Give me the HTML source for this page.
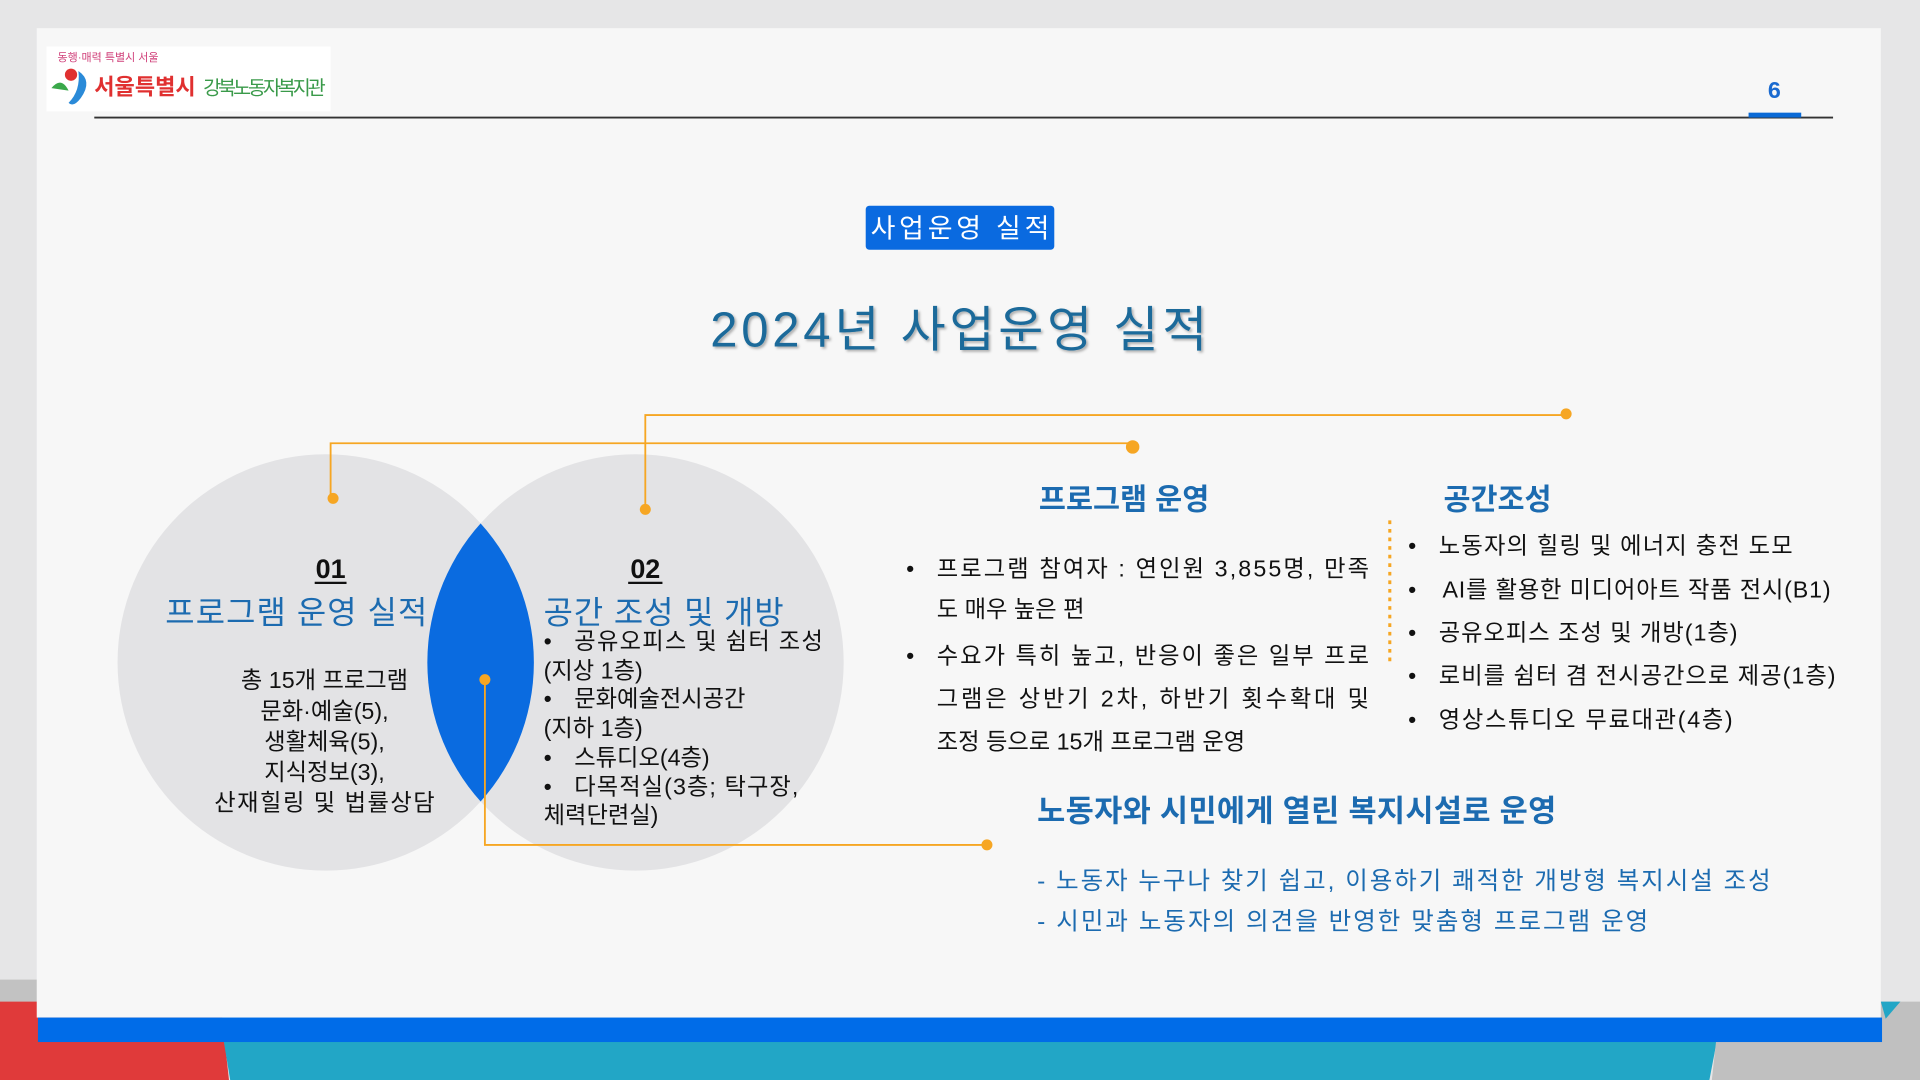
<!DOCTYPE html>
<html><head><meta charset="utf-8"><style>
html,body{margin:0;padding:0;width:1920px;height:1080px;overflow:hidden;background:#e6e6e7}
svg{display:block}
text{font-family:"Liberation Sans","Noto Sans CJK KR",sans-serif}
</style></head><body>
<svg width="1920" height="1080" viewBox="0 0 1568 882" xmlns="http://www.w3.org/2000/svg">
<defs>
<clipPath id="cl"><circle cx="266" cy="541" r="170"/></clipPath>
<filter id="sh"><feDropShadow dx="1.5" dy="1.5" stdDeviation="1" flood-color="#000" flood-opacity="0.3"/></filter>
</defs>
<rect width="1568" height="882" fill="#e6e6e7"/>
<rect x="0" y="800" width="32" height="30" fill="#c2c2c2"/>
<polygon points="0,818 180,818 187,882 0,882" fill="#e03a3a"/>
<polygon points="181,840 1404,840 1396,882 188,882" fill="#22a6c6"/>
<polygon points="1405,818 1568,818 1568,882 1398,882" fill="#c0c0c0"/>
<polygon points="1536,818 1552,818 1540,832" fill="#22a6c6"/>
<rect x="30" y="23" width="1506" height="808" fill="#f7f7f7"/>
<rect x="31" y="831" width="1506" height="20" fill="#006ce8"/>
<rect x="38" y="38" width="232" height="53" fill="#fff"/>
<text x="47" y="50" font-size="9" fill="#d0407a">동행·매력 특별시 서울</text>
<circle cx="58" cy="61" r="5" fill="#e03030"/>
<path d="M42,72 Q50,62 56,74 Z" fill="#3aa84a"/>
<path d="M64,58 Q76,66 66,80 Q60,88 56,84 Q66,74 64,58Z" fill="#2a8ad8"/>
<text x="77" y="77" font-size="18" fill="#e03030" font-weight="bold">서울특별시</text>
<text x="166" y="77" font-size="16" fill="#3a9a4a" textLength="100">강북노동자복지관</text>
<line x1="77" y1="96" x2="1497" y2="96" stroke="#333" stroke-width="1.5"/>
<rect x="1428" y="92" width="43" height="4" fill="#0a6ad6"/>
<text x="1449" y="80" font-size="19" font-weight="bold" fill="#1a6ad0" text-anchor="middle">6</text>
<rect x="707" y="168" width="154" height="36" rx="3" fill="#0a6ae0"/>
<text x="784" y="194" font-size="22" fill="#fff" text-anchor="middle" textLength="146">사업운영 실적</text>
<text x="783" y="283" font-size="40" fill="#1a6a9a" text-anchor="middle" filter="url(#sh)" textLength="406">2024년 사업운영 실적</text>
<circle cx="266" cy="541" r="170" fill="#e3e3e5"/>
<circle cx="519" cy="541" r="170" fill="#e3e3e5"/>
<circle cx="519" cy="541" r="170" fill="#0a6be0" clip-path="url(#cl)"/>
<g stroke="#f6a623" stroke-width="1.5" fill="none">
<polyline points="270,407 270,362 925,362"/>
<polyline points="527,416 527,339 1279,339"/>
<polyline points="396,555 396,690 806,690"/>
<line x1="1135" y1="425" x2="1135" y2="540" stroke-dasharray="3,4" stroke-width="2.5"/>
</g>
<g fill="#f6a623">
<circle cx="272" cy="407" r="4.5"/><circle cx="527" cy="416" r="4.5"/><circle cx="396" cy="555" r="4.5"/>
<circle cx="925" cy="365" r="5.5"/><circle cx="1279" cy="338" r="4.5"/><circle cx="806" cy="690" r="4.5"/>
</g>
<text x="270" y="472" font-size="22" font-weight="bold" fill="#111" text-anchor="middle">01</text>
<line x1="257" y1="476" x2="283" y2="476" stroke="#111" stroke-width="1.8"/>
<text x="242" y="509" font-size="26" fill="#1c6bb0" text-anchor="middle" textLength="214">프로그램 운영 실적</text>
<g font-size="19" fill="#111" text-anchor="middle">
<text x="265" y="562">총 15개 프로그램</text>
<text x="265" y="587">문화·예술(5),</text>
<text x="265" y="612">생활체육(5),</text>
<text x="265" y="637">지식정보(3),</text>
<text x="265" y="662" textLength="180">산재힐링 및 법률상담</text>
</g>
<text x="527" y="472" font-size="22" font-weight="bold" fill="#111" text-anchor="middle">02</text>
<line x1="513" y1="476" x2="541" y2="476" stroke="#111" stroke-width="1.8"/>
<text x="444" y="509" font-size="26" fill="#1c6bb0" textLength="196">공간 조성 및 개방</text>
<g font-size="19" fill="#111">
<text x="444" y="530">•</text><text x="469" y="530" textLength="203">공유오피스 및 쉼터 조성</text>
<text x="444" y="554">(지상 1층)</text>
<text x="444" y="577">•</text><text x="469" y="577">문화예술전시공간</text>
<text x="444" y="601">(지하 1층)</text>
<text x="444" y="625">•</text><text x="469" y="625">스튜디오(4층)</text>
<text x="444" y="649">•</text><text x="469" y="649" textLength="183">다목적실(3층; 탁구장,</text>
<text x="444" y="672">체력단련실)</text>
</g>
<text x="918" y="416" font-size="24" font-weight="bold" fill="#1c6bb0" text-anchor="middle">프로그램 운영</text>
<g font-size="19" fill="#111">
<text x="740" y="471">•</text><text x="765" y="471" textLength="353">프로그램 참여자 : 연인원 3,855명, 만족</text>
<text x="765" y="504">도 매우 높은 편</text>
<text x="740" y="542">•</text><text x="765" y="542" textLength="353">수요가 특히 높고, 반응이 좋은 일부 프로</text>
<text x="765" y="577" textLength="353">그램은 상반기 2차, 하반기 횟수확대 및</text>
<text x="765" y="612">조정 등으로 15개 프로그램 운영</text>
</g>
<text x="1223" y="416" font-size="24" font-weight="bold" fill="#1c6bb0" text-anchor="middle">공간조성</text>
<g font-size="19" fill="#111">
<text x="1150" y="452">•</text><text x="1175" y="452" textLength="289">노동자의 힐링 및 에너지 충전 도모</text>
<text x="1150" y="488">•</text><text x="1178" y="488" textLength="317">AI를 활용한 미디어아트 작품 전시(B1)</text>
<text x="1150" y="523">•</text><text x="1175" y="523" textLength="244">공유오피스 조성 및 개방(1층)</text>
<text x="1150" y="558">•</text><text x="1175" y="558" textLength="324">로비를 쉼터 겸 전시공간으로 제공(1층)</text>
<text x="1150" y="594">•</text><text x="1175" y="594" textLength="240">영상스튜디오 무료대관(4층)</text>
</g>
<text x="847" y="671" font-size="25" font-weight="bold" fill="#1c6bb0" textLength="424">노동자와 시민에게 열린 복지시설로 운영</text>
<text x="847" y="726" font-size="20" fill="#1c6bb0" textLength="599">- 노동자 누구나 찾기 쉽고, 이용하기 쾌적한 개방형 복지시설 조성</text>
<text x="847" y="759" font-size="20" fill="#1c6bb0" textLength="499">- 시민과 노동자의 의견을 반영한 맞춤형 프로그램 운영</text>
</svg>
</body></html>
